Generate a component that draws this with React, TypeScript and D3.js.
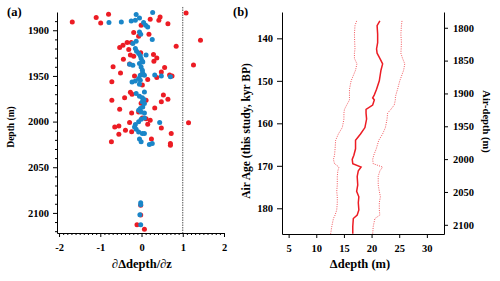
import React, { useRef, useEffect } from 'react';
import * as d3 from 'd3';

// (a) ∂Δdepth/∂z against depth: [slope, depth (m)]
const redPoints: [number, number][] = [
  [-1.68, 1891], [-1.10, 1886], [-0.80, 1882.5], [-0.99, 1892], [1.08, 1881], [0.45, 1885.5],
  [0.42, 1889], [0.21, 1888], [0.64, 1893], [-0.01, 1894.5], [1.43, 1911], [0.84, 1917.5],
  [1.26, 1938], [0.18, 1904.4], [-0.19, 1902.5], [-0.07, 1906.6], [-0.35, 1913.5], [-0.25, 1913.5],
  [-0.45, 1916.4], [-0.53, 1919], [-0.31, 1921], [-0.02, 1924.5], [-0.27, 1927], [-0.19, 1928.4],
  [-0.44, 1931.7], [-0.29, 1937], [0.29, 1926.6], [0.37, 1930.3], [0.30, 1934], [-0.69, 1940],
  [-0.51, 1946.7], [-0.17, 1950], [0.01, 1948.5], [0.56, 1940.8], [0.48, 1945.6], [0.68, 1949],
  [0.74, 1950], [0.37, 1951.7], [0.15, 1954], [-0.72, 1956.5], [0.02, 1960], [-0.27, 1968],
  [-0.23, 1970], [-0.41, 1974], [0.53, 1971], [0.64, 1975.6], [0.48, 1978.4], [-0.72, 1976.6],
  [-0.01, 1980], [0.11, 1976.6], [-0.53, 1986.4], [-0.24, 1990.5], [-0.07, 1989.4], [0.32, 1985],
  [0.02, 1996], [1.14, 2001.4], [-0.65, 2005.8], [-0.55, 2004.7], [-0.29, 2001], [-0.39, 2009.4],
  [-0.24, 2011.2], [-0.55, 2014], [-0.73, 2022], [0.11, 1997], [0.21, 1998.5], [0.15, 2003],
  [0.48, 2007], [0.72, 2013], [0.24, 2019], [0.70, 2024], [0.70, 2026],
  [-0.02, 2091.5], [-0.02, 2102.4], [-0.11, 2113], [0.07, 2118],
];

const bluePoints: [number, number][] = [
  [0.27, 1880.6], [-0.13, 1882.8], [-0.05, 1886.5], [-0.15, 1889], [-0.25, 1889.8], [-0.49, 1891],
  [-0.79, 1891.6], [0.05, 1891.6], [0.10, 1894.5], [0.15, 1896.4], [-0.05, 1901.8], [-0.02, 1904.4],
  [0.26, 1910], [-0.13, 1912], [-0.21, 1914.5], [-0.15, 1920], [-0.12, 1923], [-0.07, 1925.5],
  [-0.03, 1928], [-0.01, 1931], [0.02, 1934], [-0.05, 1936.4], [0.11, 1927],
  [-0.29, 1937.2], [-0.21, 1938.3], [0.03, 1934.7], [-0.01, 1940.2], [0.02, 1943.8], [0.03, 1946.7],
  [-0.03, 1949.2], [0.07, 1949.2], [-0.07, 1952.8], [-0.15, 1955.5], [-0.23, 1956.6], [-0.03, 1954.7],
  [0.32, 1949], [0.48, 1950], [0.70, 1951], [-0.05, 1959],
  [0.07, 1967.5], [-0.13, 1969.3], [-0.05, 1972.2], [0.02, 1974], [0.06, 1975.8], [0.02, 1978.4],
  [0.07, 1980.2], [0.03, 1983.9], [-0.03, 1985.7], [-0.07, 1987.5], [-0.01, 1989.4], [0.07, 1990.5],
  [-0.07, 2000.3], [-0.01, 1997.4], [0.07, 1996], [-0.15, 2003.2], [-0.17, 2005.8], [-0.13, 2008.3],
  [-0.07, 2011.3], [0.02, 2013], [0.44, 2001], [0.07, 2013], [-0.05, 2019], [-0.01, 2022],
  [0.19, 2025], [0.26, 2024],
  [-0.02, 2089], [-0.02, 2091], [-0.04, 2102], [-0.02, 2113],
];

// (b) Δdepth against air age
const airAge = [
  135.9, 137, 139, 141, 142.5, 143.5, 144.7, 146, 147.5, 150, 152, 153.3, 154, 154.5, 155.7, 156.7,
  157.6, 159, 161, 162.5, 164, 166, 167.5, 168.5, 169.5, 170.3, 171.2, 172.5, 174.5, 176, 177.3,
  178.7, 180.4, 181.6, 182.4, 184.3, 186,
];
const deltaDepth = [
  21.5, 21.0, 21.1, 21.1, 20.9, 21.0, 21.5, 22.0, 21.7, 21.4, 20.9, 20.5, 20.2, 20.5, 20.2, 19.0,
  19.0, 19.1, 18.8, 18.0, 17.1, 17.1, 16.8, 16.5, 16.6, 18.1, 17.6, 17.4, 17.5, 17.3, 17.7,
  17.6, 17.7, 17.4, 16.7, 16.6, 16.6,
];
const deltaLow = [
  17.3, 17.0, 16.9, 16.95, 17.0, 16.9, 16.9, 17.35, 17.1, 16.3, 16.0, 16.0, 16.0, 16.0, 15.5, 15.1,
  15.0, 15.0, 14.7, 14.0, 13.5, 13.4, 13.3, 13.1, 13.3, 14.1, 13.9, 13.8, 13.8, 13.7, 13.8,
  13.8, 13.7, 13.4, 13.1, 12.8, 12.6,
];
const deltaHigh = [
  25.5, 25.4, 25.3, 25.4, 25.35, 25.3, 25.6, 26.0, 25.8, 25.1, 24.7, 24.4, 24.3, 24.3, 24.1, 23.5,
  22.9, 22.8, 22.5, 22.0, 21.3, 20.85, 20.4, 20.2, 20.3, 22.0, 21.5, 21.2, 21.2, 21.4, 21.6,
  21.4, 21.4, 21.5, 20.6, 20.3, 20.2,
];

const slopeTicks = [-2, -1, 0, 1, 2];
const depthTicks = [1900, 1950, 2000, 2050, 2100];
const ageTicks = [140, 150, 160, 170, 180];
const deltaTicks = [5, 10, 15, 20, 25, 30];
const airDepthTicks = [1800, 1850, 1900, 1950, 2000, 2050, 2100];

const RED = '#ec1c24';
const BLUE = '#1a86c8';
const FONT = "'Liberation Serif', 'DejaVu Serif', serif";

const App = () => {
  const svgRef = useRef<SVGSVGElement>(null);

  useEffect(() => {
    const svg = d3.select(svgRef.current);
    svg.selectAll('*').remove();
    svg.style('font-family', FONT).style('font-weight', 'bold');

    const styleAxis = (g, size = 10.5) => {
      g.attr('font-family', null).attr('font-size', null);
      g.style('font-family', FONT).style('font-size', `${size}px`).style('font-weight', 'bold');
      g.select('.domain').attr('stroke', '#000');
      g.selectAll('.tick line').attr('stroke', '#000');
      g.selectAll('.tick text').attr('fill', '#000');
    };

    const label = (g, text: string, size: number) =>
      g.append('text')
        .style('font-family', FONT)
        .style('font-weight', 'bold')
        .style('font-size', `${size}px`)
        .text(text);

    // ---------- panel (a)
    const xA = d3.scaleLinear().domain([-2.05, 2]).range([57, 224]);
    const yA = d3.scaleLinear().domain([1880, 2122]).range([12, 233]);
    const ga = svg.append('g');

    // reference line at slope = 1
    ga.append('line')
      .attr('x1', xA(1)).attr('x2', xA(1))
      .attr('y1', yA(1874.5)).attr('y2', yA(2122))
      .attr('stroke', '#555').attr('stroke-width', 1)
      .attr('stroke-dasharray', '1.5,1');

    ga.append('g')
      .selectAll('circle')
      .data(redPoints)
      .join('circle')
      .attr('cx', d => xA(d[0]))
      .attr('cy', d => yA(d[1]))
      .attr('r', 2.5)
      .attr('fill', RED);

    ga.append('g')
      .selectAll('circle')
      .data(bluePoints)
      .join('circle')
      .attr('cx', d => xA(d[0]))
      .attr('cy', d => yA(d[1]))
      .attr('r', 2.5)
      .attr('fill', BLUE);

    // minor ticks
    ga.append('g')
      .attr('transform', `translate(57,0)`)
      .call(d3.axisLeft(yA).tickValues(d3.range(1890, 2121, 10).filter(v => v % 50 !== 0)).tickSize(2).tickFormat(() => '').tickSizeOuter(0))
      .call(g => g.select('.domain').remove())
      .call(g => g.selectAll('.tick line').attr('stroke', '#000'));

    ga.append('g')
      .attr('transform', `translate(0,233)`)
      .call(d3.axisBottom(xA).tickValues(d3.range(-20, 21).filter(v => v % 10 !== 0).map(v => v / 10)).tickSize(2).tickFormat(() => '').tickSizeOuter(0))
      .call(g => g.select('.domain').remove())
      .call(g => g.selectAll('.tick line').attr('stroke', '#000'));

    ga.append('g')
      .attr('transform', `translate(57,0)`)
      .call(d3.axisLeft(yA).tickValues(depthTicks).tickSize(4).tickPadding(4).tickSizeOuter(0).tickFormat(d => String(d)))
      .call(g => styleAxis(g));

    ga.append('g')
      .attr('transform', `translate(0,233)`)
      .call(d3.axisBottom(xA).tickValues(slopeTicks).tickSize(4).tickPadding(7).tickSizeOuter(0).tickFormat(d => String(d)))
      .call(g => styleAxis(g));

    label(ga, '∂Δdepth/∂z', 12.5)
      .attr('x', 142).attr('y', 268)
      .attr('text-anchor', 'middle');

    label(ga, 'Depth (m)', 9.5)
      .attr('transform', 'translate(13.5,127) rotate(-90)')
      .attr('text-anchor', 'middle');

    label(ga, '(a)', 12.5)
      .attr('x', 7).attr('y', 16);

    // ---------- panel (b)
    const xB = d3.scaleLinear().domain([3.8, 33.1]).range([282, 444]);
    const yB = d3.scaleLinear().domain([133.8, 186.05]).range([12, 234]);
    const yR = d3.scaleLinear().domain([1776, 2114]).range([12, 234]);
    const gb = svg.append('g');

    const line = d3.line<[number, number]>()
      .x(d => xB(d[0]))
      .y(d => yB(d[1]));

    const series = (vals: number[]) => airAge.map((a, i) => [vals[i], a] as [number, number]);

    gb.append('path')
      .datum(series(deltaLow))
      .attr('d', line)
      .attr('fill', 'none').attr('stroke', RED).attr('stroke-opacity', 0.75)
      .attr('stroke-width', 1).attr('stroke-dasharray', '1,1.3');

    gb.append('path')
      .datum(series(deltaHigh))
      .attr('d', line)
      .attr('fill', 'none').attr('stroke', RED).attr('stroke-opacity', 0.75)
      .attr('stroke-width', 1).attr('stroke-dasharray', '1,1.3');

    gb.append('path')
      .datum(series(deltaDepth))
      .attr('d', line)
      .attr('fill', 'none').attr('stroke', RED).attr('stroke-width', 1.5);

    gb.append('g')
      .attr('transform', `translate(282,0)`)
      .call(d3.axisLeft(yB).tickValues(ageTicks).tickSize(5).tickPadding(4).tickSizeOuter(0).tickFormat(d => String(d)))
      .call(g => styleAxis(g));

    gb.append('g')
      .attr('transform', `translate(444,0)`)
      .call(d3.axisRight(yR).tickValues(airDepthTicks).tickSize(4).tickPadding(5).tickSizeOuter(0).tickFormat(d => String(d)))
      .call(g => styleAxis(g));

    gb.append('g')
      .attr('transform', `translate(0,234)`)
      .call(d3.axisBottom(xB).tickValues(deltaTicks).tickSize(4).tickPadding(7).tickSizeOuter(0).tickFormat(d => String(d)))
      .call(g => styleAxis(g));

    label(gb, 'Δdepth (m)', 12.5)
      .attr('x', 360).attr('y', 268)
      .attr('text-anchor', 'middle');

    label(gb, 'Air Age (this study, kyr BP)', 11.5)
      .attr('transform', 'translate(249.5,131) rotate(-90)')
      .attr('text-anchor', 'middle');

    label(gb, 'Air-depth (m)', 10.5)
      .attr('transform', 'translate(483,121.5) rotate(90)')
      .attr('text-anchor', 'middle');

    label(gb, '(b)', 12.5)
      .attr('x', 233).attr('y', 16);
  }, []);

  return (
    <svg
      ref={svgRef}
      width={500}
      height={281}
      style={{ position: 'absolute', left: 0, top: 0, background: '#fff' }}
    />
  );
};

export default App;
